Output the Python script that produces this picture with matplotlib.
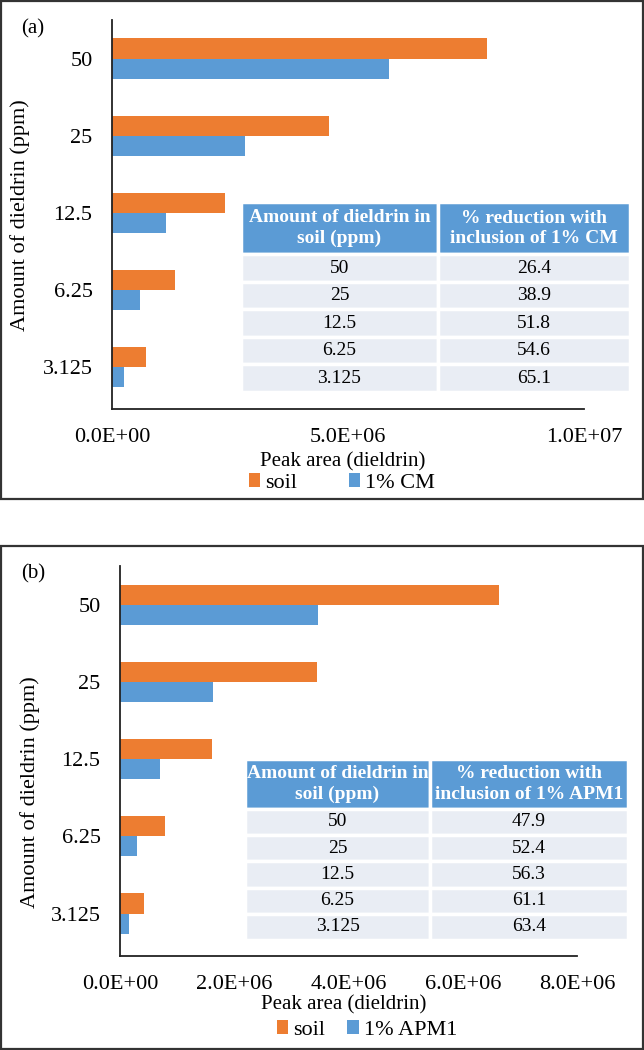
import numpy as np
import matplotlib
matplotlib.use("Agg")
import matplotlib.pyplot as plt
from matplotlib.patches import Rectangle
from matplotlib.ticker import FuncFormatter

plt.rcParams['font.family'] = ['Liberation Serif', 'DejaVu Serif']

# data
levels = ["50", "25", "12.5", "6.25", "3.125"]

soil_a = [7.95e6, 4.59e6, 2.40e6, 1.34e6, 0.72e6]
cm_a = [5.86e6, 2.82e6, 1.15e6, 0.59e6, 0.25e6]
red_a = ["26.4", "38.9", "51.8", "54.6", "65.1"]

soil_b = [6.64e6, 3.45e6, 1.61e6, 0.79e6, 0.42e6]
apm_b = [3.47e6, 1.63e6, 0.70e6, 0.30e6, 0.15e6]
red_b = ["47.9", "52.4", "56.3", "61.1", "63.4"]

ORANGE = "#ED7D31"
BLUE = "#5B9BD5"
ROW = "#E9EDF4"

W, H = 644, 1050
fig = plt.figure(figsize=(W / 100, H / 100), dpi=100)


def fx(px):
    return px / W


def fy(py):
    return 1 - py / H


def panel(box, axbox, xmax, xstep, s1, s2, name2, reds, tbl, label,
          xlab_y, leg_xy, ylab_xy):
    # outer border
    x0, y0, x1, y1 = box
    fig.patches.append(Rectangle((fx(x0), fy(y1)), fx(x1 - x0), (y1 - y0) / H,
                                 transform=fig.transFigure, fill=False,
                                 edgecolor="#333333", lw=1.6))
    l, t, r, b = axbox
    ax = fig.add_axes([fx(l), fy(b), fx(r - l), (b - t) / H])
    pos = np.arange(len(levels))
    h = 0.26
    ax.barh(pos - h / 2, s1, height=h, color=ORANGE, label="soil")
    ax.barh(pos + h / 2, s2, height=h, color=BLUE, label="1% " + name2)
    ax.set_ylim(len(levels) - 0.45, -0.5)
    ax.set_xlim(0, xmax)
    ax.set_yticks(pos)
    ax.set_yticklabels(levels)
    ax.set_xticks(np.arange(0, xmax + 1, xstep))
    ax.xaxis.set_major_formatter(FuncFormatter(lambda v, p: f"{v:.1E}"))
    ax.tick_params(axis="both", length=0, labelsize=16)
    ax.tick_params(axis="x", pad=14)
    ax.tick_params(axis="y", pad=14)
    for s in ["top", "right"]:
        ax.spines[s].set_visible(False)
    for s in ["left", "bottom"]:
        ax.spines[s].set_linewidth(1.3)
        ax.spines[s].set_color("#222222")
    ax.set_ylabel("Amount of dieldrin (ppm)", fontsize=16)
    ax.yaxis.set_label_coords((ylab_xy[0] - l) / (r - l),
                              (b - ylab_xy[1]) / (b - t))
    fig.text(fx((l + r) / 2 - 5), fy(xlab_y), "Peak area (dieldrin)",
             ha="center", va="center", fontsize=15)
    fig.text(fx(x0 + 20), fy(y0 + 28), label, ha="left", va="center",
             fontsize=15)
    ax.legend(loc="center", bbox_to_anchor=(fx(leg_xy[0]), fy(leg_xy[1])),
              bbox_transform=fig.transFigure, ncol=2, frameon=False,
              fontsize=16, handlelength=0.5, handleheight=0.6,
              handletextpad=0.25, columnspacing=leg_xy[2],
              borderpad=0, borderaxespad=0)

    # inset table
    tl, tt, tr, tb, tdiv = tbl
    tax = fig.add_axes([fx(tl), fy(tb), fx(tr - tl), (tb - tt) / H])
    tax.axis("off")
    header = ["Amount of dieldrin in\nsoil (ppm)",
              f"% reduction with\ninclusion of 1% {name2}"]
    rows = [[lv, rv] for lv, rv in zip(levels, reds)]
    table = tax.table(cellText=rows, colLabels=header, loc="center",
                      bbox=[0, 0, 1, 1], cellLoc="center")
    table.auto_set_font_size(False)
    w0 = (tdiv - tl) / (tr - tl)
    for (i, j), cell in table.get_celld().items():
        cell.set_width(w0 if j == 0 else 1 - w0)
        cell.set_edgecolor("white")
        cell.set_linewidth(2.5)
        txt = cell.get_text()
        txt.set_fontsize(14)
        if i == 0:
            cell.set_height(1.9)
            cell.set_facecolor(BLUE)
            txt.set_color("white")
            txt.set_fontweight("bold")
            txt.set_linespacing(1.25)
        else:
            cell.set_height(1.0)
            cell.set_facecolor(ROW)
    return ax


panel((1, 1, 643, 499), (112, 20, 584, 409), 1.0e7, 5.0e6,
      soil_a, cm_a, "CM", red_a, (241, 202, 630, 392, 438), "(a)",
      462, (342, 483, 2.3), (30, 215))

panel((1, 546, 643, 1049), (120, 566, 577, 956), 8.0e6, 2.0e6,
      soil_b, apm_b, "APM1", red_b, (245, 759, 628, 940, 430), "(b)",
      1005, (367, 1030, 1.0), (40, 792))

fig.savefig("out.png", dpi=100)
